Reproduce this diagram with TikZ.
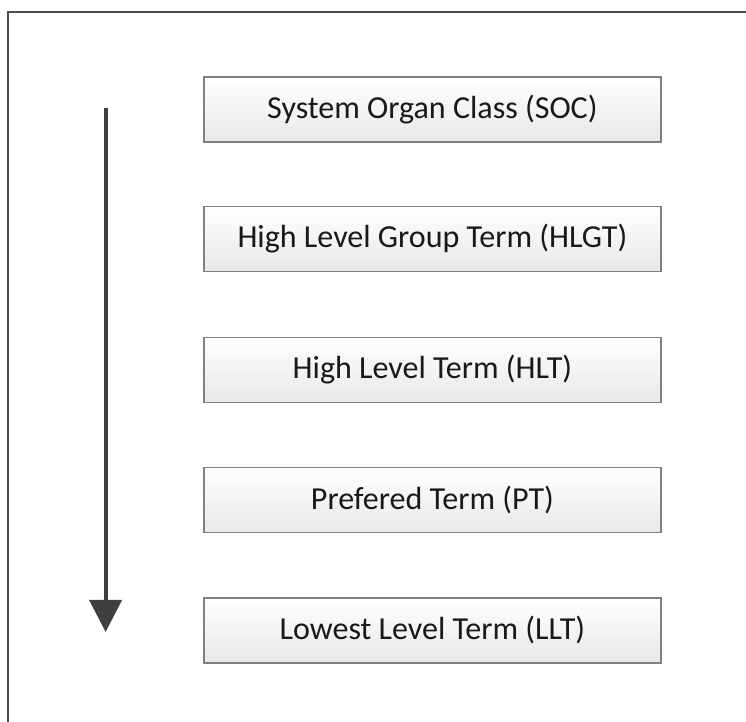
\documentclass[tikz,border=0pt]{standalone}
\usepackage{fontspec}
\setmainfont{Carlito}
\usetikzlibrary{arrows.meta}
\begin{document}
\begin{tikzpicture}[
        termbox/.style={draw=black!50, line width=1pt, top color=white, bottom color=black!9,
            minimum width=11.425cm, minimum height=1.625cm, inner sep=0pt,
            font=\fontsize{22.8}{27}\selectfont, text=black!90},
        levelarrow/.style={draw=black!75, line width=2.8pt, -{Triangle[width=0.8cm, length=0.8cm]}}
    ]
            \useasboundingbox (0, 0) rectangle (18.65, 18.05);
            \draw[black!70, line width=1pt] (0.2, 0) |- (18.65, 17.75);
            \node[termbox] (soc) at (10.81, 15.31) {System Organ Class (SOC)};
            \node[termbox] (hlgt) at (10.81, 12.075) {High Level Group Term (HLGT)};
            \node[termbox] (hlt) at (10.81, 8.8) {High Level Term (HLT)};
            \node[termbox] (pt) at (10.81, 5.55) {Prefered Term (PT)};
            \node[termbox] (llt) at (10.81, 2.29) {Lowest Level Term (LLT)};
            \coordinate (top) at (2.64, 15.35);
            \coordinate (bottom) at (2.64, 2.25);
            \draw[levelarrow] (top) -- (bottom);
        \end{tikzpicture}
\end{document}
